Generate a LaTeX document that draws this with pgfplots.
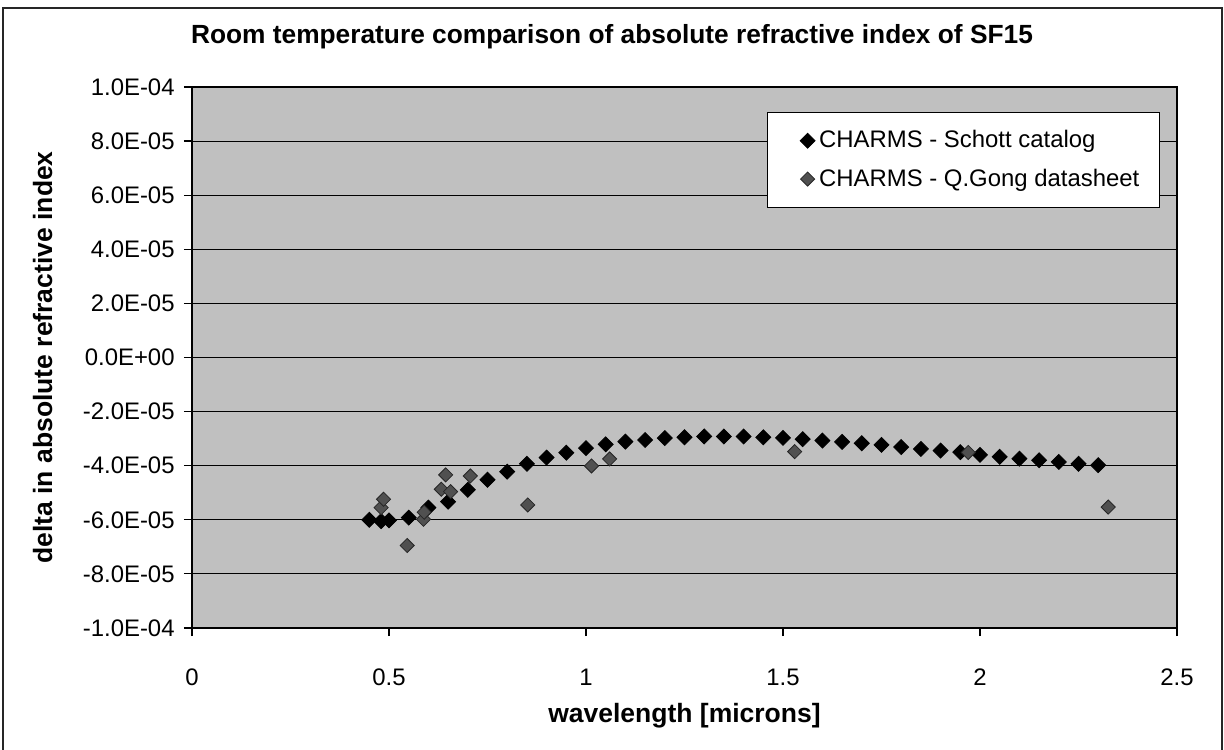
\documentclass[border=0pt]{standalone}
\usepackage{pgfplots}
\pgfplotsset{compat=1.18}
\usepackage{pgfplotstable}
\usepackage{fontspec}
\setmainfont{Liberation Sans}
\definecolor{bg}{RGB}{192,192,192}
\definecolor{gongfill}{RGB}{80,80,80}

\pgfplotstableread{
x y
0.45 -6.00e-5
0.48 -6.05e-5
0.50 -6.02e-5
0.55 -5.92e-5
0.60 -5.55e-5
0.65 -5.33e-5
0.70 -4.89e-5
0.75 -4.52e-5
0.80 -4.22e-5
0.85 -3.93e-5
0.90 -3.70e-5
0.95 -3.52e-5
1.00 -3.35e-5
1.05 -3.21e-5
1.10 -3.11e-5
1.15 -3.05e-5
1.20 -2.98e-5
1.25 -2.95e-5
1.30 -2.92e-5
1.35 -2.92e-5
1.40 -2.92e-5
1.45 -2.95e-5
1.50 -2.97e-5
1.55 -3.02e-5
1.60 -3.07e-5
1.65 -3.12e-5
1.70 -3.17e-5
1.75 -3.23e-5
1.80 -3.31e-5
1.85 -3.38e-5
1.90 -3.44e-5
1.95 -3.50e-5
2.00 -3.60e-5
2.05 -3.67e-5
2.10 -3.74e-5
2.15 -3.80e-5
2.20 -3.86e-5
2.25 -3.93e-5
2.30 -3.98e-5
}\schott

\pgfplotstableread{
x y
0.4800 -5.55e-5
0.4861 -5.24e-5
0.5461 -6.95e-5
0.5876 -5.98e-5
0.5893 -5.72e-5
0.6328 -4.87e-5
0.6438 -4.34e-5
0.6563 -4.96e-5
0.7065 -4.38e-5
0.8521 -5.45e-5
1.0140 -4.01e-5
1.0600 -3.75e-5
1.5296 -3.48e-5
1.9701 -3.51e-5
2.3254 -5.53e-5
}\gong

\begin{document}
\begin{tikzpicture}
\path[use as bounding box] (-96bp,-61bp) rectangle (516bp,314bp);
\draw[line width=0.7bp, black!85] (-94.5bp,-70bp) rectangle (515bp,310bp);
\begin{axis}[
  at={(0,0)}, anchor=south west,
  scale only axis,
  width=492.5bp, height=270.5bp,
  xmin=0, xmax=2.5,
  ymin=-1e-4, ymax=1e-4,
  xtick={0,0.5,1,1.5,2,2.5},
  xticklabels={0,0.5,1,1.5,2,2.5},
  ytick={-1e-4,-8e-5,-6e-5,-4e-5,-2e-5,0,2e-5,4e-5,6e-5,8e-5,1e-4},
  yticklabels={-1.0E-04,-8.0E-05,-6.0E-05,-4.0E-05,-2.0E-05,0.0E+00,2.0E-05,4.0E-05,6.0E-05,8.0E-05,1.0E-04},
  scaled y ticks=false,
  tick align=outside,
  major tick length=4bp,
  tick style={black, line width=0.6bp},
  xtick pos=bottom, ytick pos=left,
  ymajorgrids,
  major grid style={black, line width=0.55bp},
  axis line style={black, line width=0.7bp},
  axis background/.style={fill=bg},
  ticklabel style={font=\fontsize{12}{14}\selectfont},
  yticklabel style={anchor=east, inner sep=0pt, xshift=-4.5bp},
  xticklabel style={anchor=base, inner sep=0pt, yshift=-24.5bp},
  title={\bfseries Room temperature comparison of absolute refractive index of SF15},
  title style={at={(axis description cs:0.4264,1.0591)}, anchor=base, inner sep=0pt, font=\fontsize{13.2}{15}\selectfont},
  xlabel={\bfseries wavelength [microns]},
  xlabel style={at={(axis description cs:0.5,-0.1756)}, anchor=base, inner sep=0pt, font=\fontsize{13.3}{15}\selectfont},
  ylabel={\bfseries delta in absolute refractive index},
  ylabel style={at={(axis description cs:-0.1421,0.5)}, anchor=base, inner sep=0pt, font=\fontsize{13.3}{15}\selectfont},
  legend style={at={(axis description cs:0.9827,0.9538)}, anchor=north east,
    draw=black, line width=0.6bp, fill=white, font=\fontsize{12}{14}\selectfont,
    inner xsep=8bp, inner ysep=7bp, row sep=5bp, cells={anchor=west}},
  legend image code/.code={\path[draw=none, fill=none] (-9bp,0bp) rectangle (0bp,0.1bp); \draw[#1, line width=0.4bp] plot coordinates {(3bp,0bp)};},
]
\addplot[only marks, mark=square*, mark size=2.65bp, mark options={rotate=45, fill=black, draw=black}] table[x=x,y=y] {\schott};
\addlegendentry{CHARMS - Schott catalog}
\addplot[only marks, mark=square*, mark size=2.5bp, mark options={rotate=45, fill=gongfill, draw=black!85}] table[x=x,y=y] {\gong};
\addlegendentry{CHARMS - Q.Gong datasheet}
\end{axis}
\end{tikzpicture}
\end{document}
